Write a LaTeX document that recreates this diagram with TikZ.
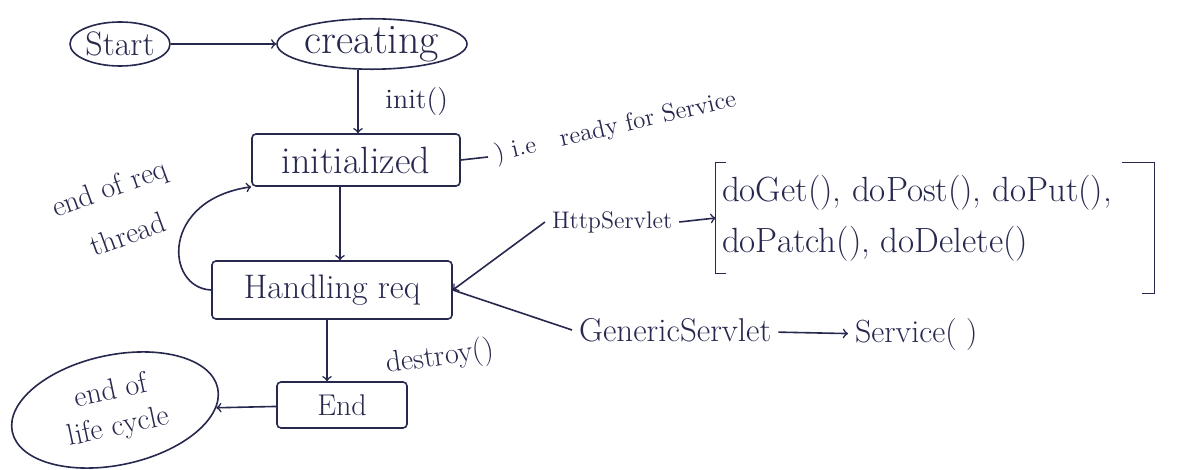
\documentclass[tikz,border=0pt]{standalone}
\usepackage{amsmath,amssymb}
\usetikzlibrary{shapes.geometric}
\definecolor{ink}{RGB}{38,40,78}
\tikzset{
  state/.style={draw,ellipse,thick,inner sep=0pt},
  stage/.style={draw,thick,rounded corners=2pt,inner sep=0pt},
  fs/.style={font=\fontsize{#1}{#1}\selectfont}
}

\begin{document}
\begin{tikzpicture}[x=0.5pt,y=-0.5pt,color=ink]
\useasboundingbox (0,0) rectangle (1204,470);
\fill[white] (0,0) rectangle (1204,470);
% life cycle states
\node[state,minimum width=50pt,minimum height=22pt,fs=17] (start) at (120,44) {Start};
\node[state,minimum width=92pt,minimum height=24pt,fs=21] (crt) at (372,44) {creating};
\node[stage,minimum width=104pt,minimum height=26pt,fs=19] (init) at (356,160) {initialized};
\node[stage,minimum width=120pt,minimum height=29pt,fs=17] (hand) at (332,290) {Handling req};
\node[stage,minimum width=65pt,minimum height=23pt,fs=15] (stop) at (342,405) {End};
\node[state,rotate=12,minimum width=105pt,minimum height=55pt,fs=15,align=center] (life) at (115,410) {end of\\[3pt]life cycle};
% arrows
\draw[->][thick] (start) -- (crt);
\draw[->][thick] ([xshift=-7pt]crt.south) -- ([xshift=-7pt]crt.south |- init.north)
  node[midway,right=10pt,fs=14] {init()};
\draw[->][thick] ([xshift=-8pt]init.south) -- ([xshift=-8pt]init.south |- hand.north);
\draw[->][thick] ([xshift=-2.5pt]hand.south) -- ([xshift=-2.5pt]hand.south |- stop.north);
\node[fs=15,rotate=8] (dsy) at (440,358) {destroy()};
\draw[->][thick] (stop) -- (life);
% back to initialized
\draw[->][thick] (hand.west) .. controls (165,288) and (160,200) .. (init.south west);
\node[fs=15,rotate=20] (eor) at (110,190) {end of req};
\node[fs=15,rotate=20] (thr) at (128,234) {thread};
% note
\node[fs=12.5,rotate=13,anchor=west] (rdy) at (488,157) {) i.e\quad ready for Service};
\draw[thick] (init.east) -- (rdy.west);
% servlets
\node[fs=12,anchor=west] (http) at (545,222) {HttpServlet};
\node[fs=16.5,anchor=west] (gen) at (572,330) {GenericServlet};
\draw[<-][thick] (hand.east) -- (http.west);
\draw[thick] (hand.east) -- (gen.west);
\node[fs=17.5,align=left,inner xsep=3pt,inner ysep=6pt] (meth) at (917,218) {doGet(), doPost(), doPut(),\\[8pt]doPatch(), doDelete()};
\draw[thick] ([xshift=5pt]meth.north west) -- (meth.north west) -- (meth.south west) -- ([xshift=5pt]meth.south west);
\draw[thick] ([xshift=2pt]meth.north east) -- ([xshift=18pt]meth.north east) -- ([xshift=18pt,yshift=-10pt]meth.south east) -- ([xshift=12pt,yshift=-10pt]meth.south east);
\draw[->][thick] (http.east) -- (meth.west);
\node[fs=16,anchor=west] (svc) at (848,335) {Service( )};
\draw[->][thick] (gen) -- (svc);
\end{tikzpicture}
\end{document}
